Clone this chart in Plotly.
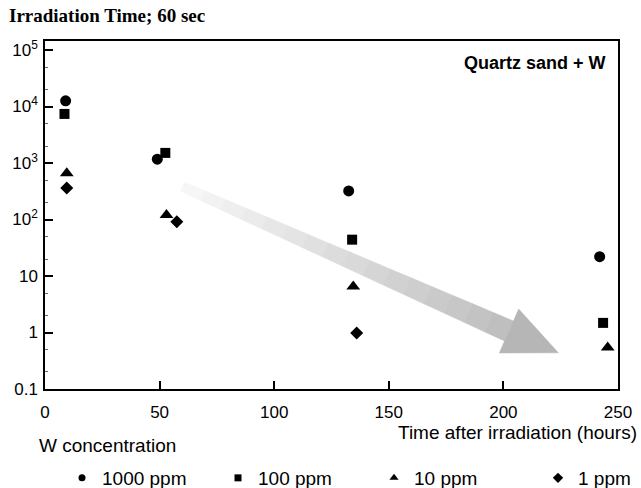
import math
import plotly.graph_objects as go

# ---------------- data ----------------
series_names = ["1000 ppm", "100 ppm", "10 ppm", "1 ppm"]
series_symbols = ["circle", "square", "triangle-up", "diamond"]
series_sizes = [11, 10, 12, 10]
legend_sizes = [7, 7, 8, 8]

x_1000 = [9.0, 49.0, 132.5, 242.0]
y_1000 = [12600, 1170, 320, 22]
x_100 = [8.5, 52.5, 134.0, 243.5]
y_100 = [7400, 1510, 44, 1.48]
x_10 = [9.5, 53.0, 134.5, 245.5]
y_10 = [660, 120, 6.5, 0.54]
x_1 = [9.5, 57.5, 136.0]
y_1 = [360, 91, 0.98]

xs = [x_1000, x_100, x_10, x_1]
ys = [y_1000, y_100, y_10, y_1]

x_ticks = [0, 50, 100, 150, 200, 250]
y_tick_vals = [0.1, 1, 10, 100, 1000, 10000, 100000]
y_tick_text = ["0.1", "1", "10", "10<sup>2</sup>", "10<sup>3</sup>", "10<sup>4</sup>", "10<sup>5</sup>"]

# trend arrow (tail -> tip), in data units
arrow_tail = (60.0, 10 ** 2.58)
arrow_tip = (224.0, 10 ** -0.36)

# ---------------- layout geometry ----------------
W, H = 641, 488
ML, MR, MT, MB = 45, 23, 41, 99
PW, PH = W - ML - MR, H - MT - MB
X_RANGE = [0, 250]
Y_RANGE = [-1, 5.16]
sx = PW / (X_RANGE[1] - X_RANGE[0])
sy = PH / (Y_RANGE[1] - Y_RANGE[0])

FONT = "Liberation Sans, Arial, sans-serif"

fig = go.Figure()


def to_px(x, y):
    return ((x - X_RANGE[0]) * sx, (math.log10(y) - Y_RANGE[0]) * sy)


def to_data(px, py):
    return (px / sx + X_RANGE[0], 10 ** (py / sy + Y_RANGE[0]))


# ---------------- arrow (gradient shaft + head) ----------------
P0 = to_px(*arrow_tail)
P1 = to_px(*arrow_tip)
dx, dy = P1[0] - P0[0], P1[1] - P0[1]
L = math.hypot(dx, dy)
ux, uy = dx / L, dy / L
nx, ny = -uy, ux
head_len, head_half = 54.0, 24.0
w0, w1 = 5.0, 11.0
shaft_len = L - head_len
N = 16


def lerp(a, b, t):
    return a + (b - a) * t


c_light, c_dark = 248, 190
for i in range(N):
    t0, t1 = i / N, (i + 1) / N
    s0, s1 = shaft_len * t0, shaft_len * t1
    hw0, hw1 = lerp(w0, w1, t0), lerp(w0, w1, t1)
    pts = [
        (P0[0] + ux * s0 + nx * hw0, P0[1] + uy * s0 + ny * hw0),
        (P0[0] + ux * s1 + nx * hw1, P0[1] + uy * s1 + ny * hw1),
        (P0[0] + ux * s1 - nx * hw1, P0[1] + uy * s1 - ny * hw1),
        (P0[0] + ux * s0 - nx * hw0, P0[1] + uy * s0 - ny * hw0),
    ]
    pts.append(pts[0])
    dpts = [to_data(*p) for p in pts]
    g = int(lerp(c_light, c_dark, (t0 + t1) / 2))
    col = f"rgb({g},{g},{g})"
    fig.add_trace(go.Scatter(
        x=[p[0] for p in dpts], y=[p[1] for p in dpts],
        mode="lines", fill="toself", fillcolor=col,
        line=dict(width=0.5, color=col), hoverinfo="skip", showlegend=False))

bx, by = P0[0] + ux * shaft_len, P0[1] + uy * shaft_len
head = [
    (bx + nx * head_half, by + ny * head_half),
    (P1[0], P1[1]),
    (bx - nx * head_half, by - ny * head_half),
]
head.append(head[0])
dhead = [to_data(*p) for p in head]
fig.add_trace(go.Scatter(
    x=[p[0] for p in dhead], y=[p[1] for p in dhead],
    mode="lines", fill="toself", fillcolor="rgb(182,182,182)",
    line=dict(width=0.5, color="rgb(182,182,182)"), hoverinfo="skip", showlegend=False))

# ---------------- data markers ----------------
for name, sym, size, x, y in zip(series_names, series_symbols, series_sizes, xs, ys):
    fig.add_trace(go.Scatter(
        x=x, y=y, mode="markers", name=name, showlegend=False,
        marker=dict(symbol=sym, size=size, color="black")))

# legend-only entries (smaller symbols as in the reference)
for i, (name, sym, size) in enumerate(zip(series_names, series_symbols, legend_sizes)):
    fig.add_trace(go.Scatter(
        x=[None], y=[None], mode="markers", name=name,
        legend="legend2" if i == 3 else "legend",
        marker=dict(symbol=sym, size=size, color="black")))

# ---------------- axes ----------------
fig.update_xaxes(
    range=X_RANGE, tickvals=x_ticks, ticks="inside", ticklen=8, tickwidth=1.5,
    tickcolor="black", showline=True, linecolor="black", linewidth=1.5, mirror=True,
    showgrid=False, zeroline=False, ticklabelstandoff=7,
    tickfont=dict(family=FONT, size=17, color="black"))
fig.update_yaxes(
    type="log", range=Y_RANGE, tickvals=y_tick_vals, ticktext=y_tick_text,
    ticks="inside", ticklen=8, tickwidth=1.5, tickcolor="black",
    showline=True, linecolor="black", linewidth=1.5, mirror=True,
    showgrid=False, zeroline=False, ticklabelstandoff=2,
    minor=dict(ticks="inside", ticklen=3, tickwidth=1, tickcolor="#666", showgrid=False),
    tickfont=dict(family=FONT, size=17, color="black"))

# ---------------- annotations ----------------
fig.add_annotation(
    text="<b>Irradiation Time; 60 sec</b>", xref="paper", yref="paper",
    x=(7 - ML) / PW, y=(H - MB - 15) / PH, xanchor="left", yanchor="middle",
    showarrow=False, font=dict(family="Liberation Serif, Times New Roman, serif", size=19, color="black"))
fig.add_annotation(
    text="<b>Quartz sand + W</b>", xref="paper", yref="paper",
    x=(608 - ML) / PW, y=(H - MB - 63) / PH, xanchor="right", yanchor="middle",
    showarrow=False, font=dict(family=FONT, size=18, color="black"))
fig.add_annotation(
    text="Time after irradiation (hours)", xref="paper", yref="paper",
    x=(639 - ML) / PW, y=(H - MB - 432) / PH, xanchor="right", yanchor="middle",
    showarrow=False, font=dict(family=FONT, size=19, color="black"))
fig.add_annotation(
    text="W concentration", xref="paper", yref="paper",
    x=(37 - ML) / PW, y=(H - MB - 445) / PH, xanchor="left", yanchor="middle",
    showarrow=False, font=dict(family=FONT, size=19, color="black"))

legend_common = dict(
    orientation="h", yanchor="middle", y=(H - MB - 478) / PH, xanchor="left",
    font=dict(family=FONT, size=19, color="black"),
    bgcolor="rgba(0,0,0,0)", borderwidth=0, itemsizing="trace")

fig.update_layout(
    width=W, height=H,
    margin=dict(l=ML, r=MR, t=MT, b=MB, autoexpand=False),
    paper_bgcolor="white", plot_bgcolor="white",
    showlegend=True,
    legend=dict(x=(62 - ML) / PW, entrywidth=111, entrywidthmode="pixels", **legend_common),
    legend2=dict(x=(538 - ML) / PW, **legend_common),
)

fig.write_html(
    "out.html",
    config={"displayModeBar": False},
    post_script="document.body.style.margin='0px';document.body.style.padding='0px';")
